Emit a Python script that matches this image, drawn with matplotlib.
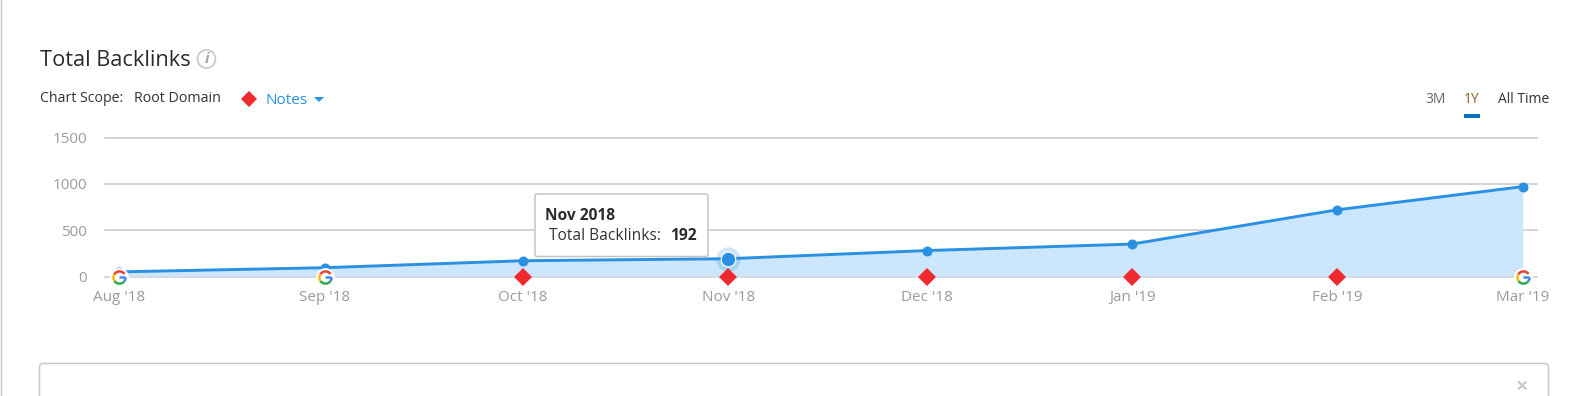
import pandas as pd
import matplotlib
matplotlib.use('Agg')
import matplotlib.pyplot as plt
from matplotlib.patches import FancyBboxPatch, Rectangle, Circle
from matplotlib.path import Path
import matplotlib.dates as mdates

plt.rcParams['font.family'] = ['Open Sans', 'DejaVu Sans']

# data
months = ['2018-08-01', '2018-09-01', '2018-10-01', '2018-11-01',
          '2018-12-01', '2019-01-01', '2019-02-01', '2019-03-01']
backlinks = [50, 95, 170, 192, 280, 350, 720, 970]
y_ticks = [0, 500, 1000, 1500]
google_months = ['2018-08-01', '2018-09-01', '2019-03-01']
note_months = ['2018-10-01', '2018-11-01', '2018-12-01', '2019-01-01', '2019-02-01']
hover_month = '2018-11-01'
hover_value = 192

dates = pd.to_datetime(months)
google_dates = pd.to_datetime(google_months)
note_dates = pd.to_datetime(note_months)
hover_date = pd.to_datetime(hover_month)

W, H = 1583, 396
fig = plt.figure(figsize=(W / 100, H / 100), dpi=100, facecolor='white')

# plot area, pixels -> figure fraction
left, right, top, bottom = 105, 1537, 137.5, 276.5
ax = fig.add_axes([left / W, 1 - bottom / H, (right - left) / W, (bottom - top) / H])
px_per_day = (1522.7 - 119.3) / 212
ax.set_xlim(dates[0] - pd.Timedelta(days=(119.3 - left) / px_per_day),
            dates[-1] + pd.Timedelta(days=(right - 1522.7) / px_per_day))
ax.set_ylim(0, 1500)

for s in ax.spines.values():
    s.set_visible(False)
ax.spines['bottom'].set_visible(True)
ax.spines['bottom'].set_color('#d5dbe6')
ax.spines['bottom'].set_linewidth(1.2)
ax.set_yticks(y_ticks)
ax.set_xticks(dates)
ax.xaxis.set_major_formatter(mdates.DateFormatter("%b '%y"))
ax.grid(axis='y', color='#c8c8c8', lw=1.1, clip_on=False)
ax.set_axisbelow(True)
ax.tick_params(axis='y', length=0, labelsize=11, labelcolor='#9b9b9b', pad=13)
ax.tick_params(axis='x', length=4, width=1, color='#d5e3ef', labelsize=11,
               labelcolor='#9b9b9b', pad=5.5)

ax.fill_between(dates, backlinks, 0, color='#cbe6fd', lw=0, zorder=2)
ax.plot(dates, backlinks, color='#2a90e2', lw=2.1, zorder=3, clip_on=False)
ax.plot(dates, backlinks, 'o', color='#2a90e2', ms=7.2, mew=0, zorder=4, clip_on=False)

# hovered point
ax.plot([hover_date], [hover_value], 'o', color='#2a90e2', ms=17.5, alpha=0.22, mew=0, zorder=5, clip_on=False)
ax.plot([hover_date], [hover_value], 'o', color='#2a90e2', ms=10.5, mec='white', mew=0.8, zorder=6, clip_on=False)

# notes
ax.plot(note_dates, [0] * len(note_dates), 'D', color='#ee2a2e', ms=8.8, mew=0, zorder=7, clip_on=False)

# google markers
ax.plot(google_dates, [0] * len(google_dates), 'o', color='white', ms=13.5, mew=0, zorder=7, clip_on=False)
g_parts = [(Path.arc(35, 150), '#ea4335'), (Path.arc(150, 215), '#fbbc05'),
           (Path.arc(215, 325), '#34a853'), (Path.arc(325, 360), '#4285f4'),
           (Path([(0.05, 0), (1, 0)]), '#4285f4')]
for g_path, g_color in g_parts:
    ax.plot(google_dates, [0] * len(google_dates), ls='none', marker=g_path, ms=8.8,
            mfc='none', mec=g_color, mew=1.8, zorder=8, clip_on=False)

# page parts, drawn in pixels
page = fig.add_axes([0, 0, 1, 1], zorder=5)
page.set_xlim(0, W)
page.set_ylim(H, 0)
page.axis('off')

page.plot([1.5, 1.5], [0, H], color='#c9c9c9', lw=1.0)
page.text(40, 60.5, 'Total Backlinks', fontsize=15.7, color='#2b2b2b', va='center')
page.add_patch(Circle((206.5, 59), 9, fc='white', ec='#bfc9cf', lw=1.2))
page.text(206.5, 59, 'i', fontsize=11, fontweight='bold', style='italic', color='#a5a5a5', ha='center', va='center')
page.text(40, 98.5, 'Chart Scope:', fontsize=10.2, color='#333333', va='center')
page.text(134, 98.5, 'Root Domain', fontsize=10.3, color='#333333', va='center')
page.plot([249.5], [98.5], 'D', color='#ee2a2e', ms=8.6, mew=0)
page.text(266, 100.5, 'Notes', fontsize=11, color='#2a90e2', va='center')
page.fill([314, 324, 319], [97, 97, 102], color='#2a90e2', lw=0)

page.text(1436, 99.5, '3M', fontsize=10, color='#666666', ha='center', va='center')
page.text(1472, 99.5, '1Y', fontsize=10, color='#8a5a2a', ha='center', va='center')
page.text(1524, 99.5, 'All Time', fontsize=10, color='#333333', ha='center', va='center')
page.add_patch(Rectangle((1464, 114), 16, 4, fc='#0a72bd', ec='none'))

# tooltip
page.add_patch(FancyBboxPatch((535, 194), 173, 62.5, boxstyle='round,pad=0,rounding_size=2',
                              fc='white', ec='#c4c4c4', lw=1.1, zorder=6))
page.text(545, 215.5, hover_date.strftime('%b %Y'), fontsize=11.2, fontweight='bold',
          color='#2b2b2b', va='center', zorder=7)
page.text(549, 235.5, 'Total Backlinks:', fontsize=11.2, color='#333333', va='center', zorder=7)
page.text(697, 235.5, str(hover_value), fontsize=11.2, fontweight='bold', color='#2b2b2b',
          ha='right', va='center', zorder=7)

# lower panel
page.add_patch(FancyBboxPatch((39.5, 363.5), 1509, 60, boxstyle='round,pad=0,rounding_size=4',
                              fc='white', ec='#c9c9c9', lw=1.1))
page.text(1522, 387, '×', fontsize=16, fontweight='bold', color='#c9c9c9', ha='center', va='center')

fig.savefig('out.png', dpi=100)
